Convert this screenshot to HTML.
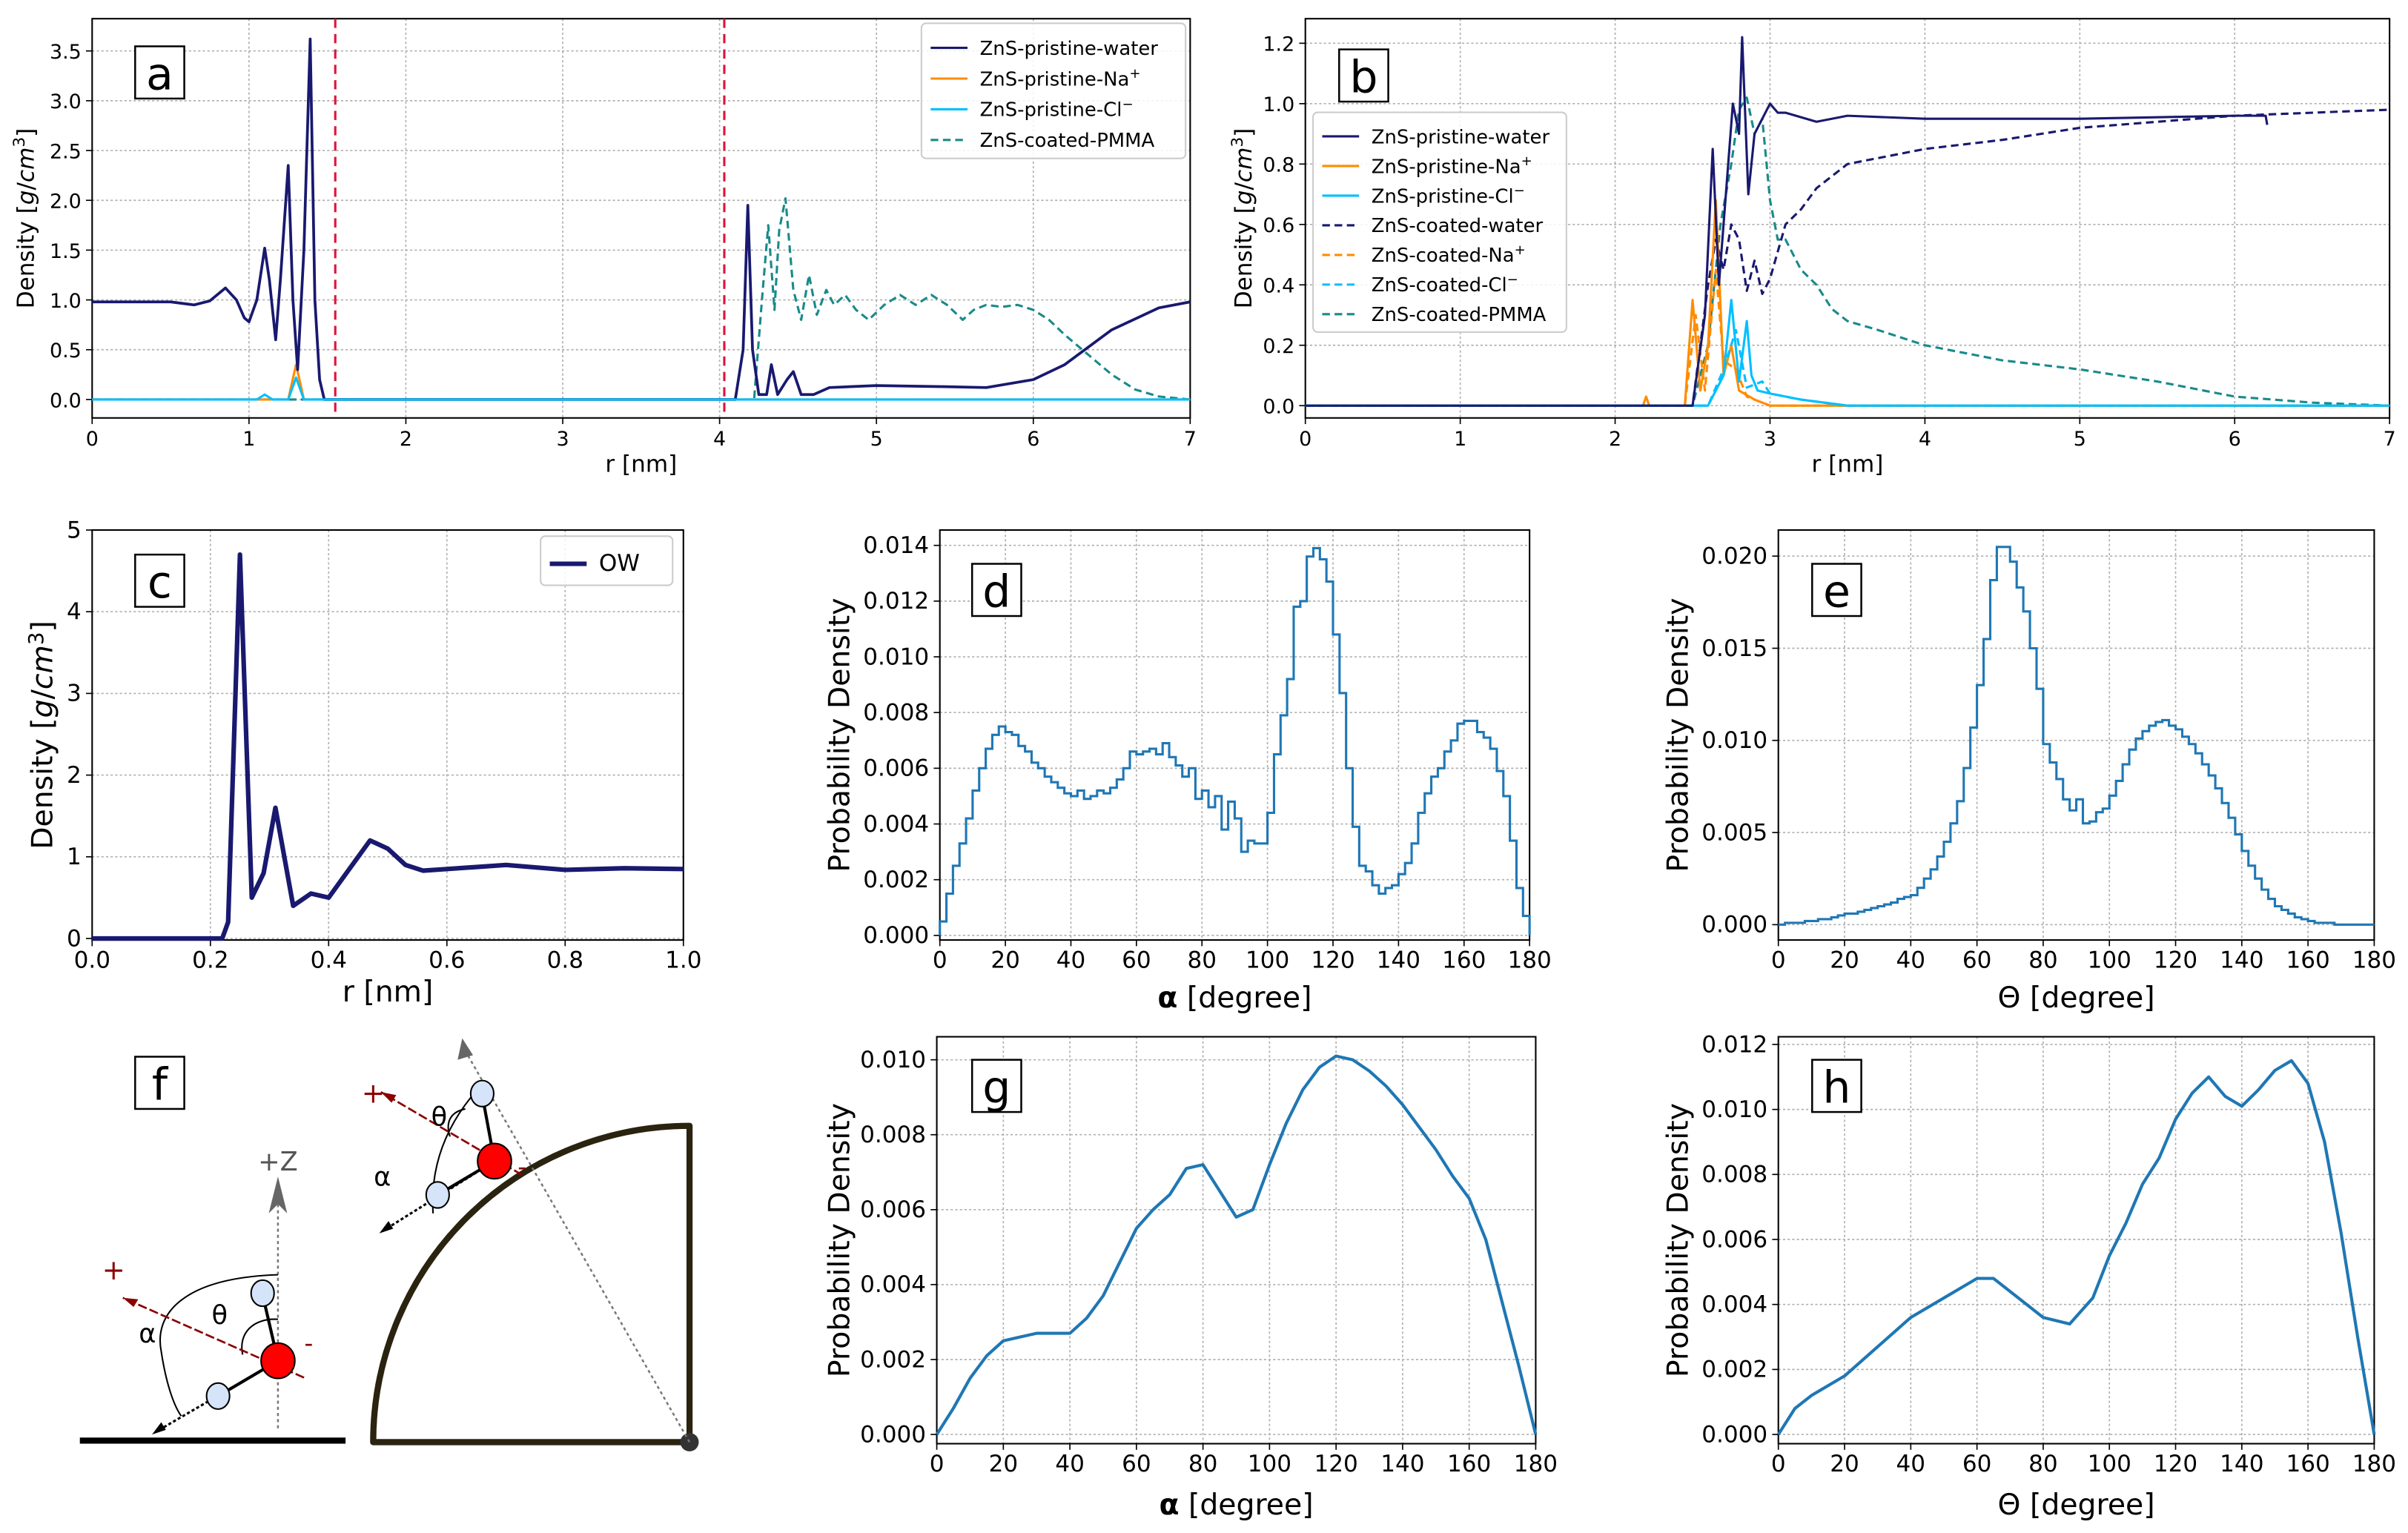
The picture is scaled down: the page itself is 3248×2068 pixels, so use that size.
<!DOCTYPE html>
<html><head><meta charset="utf-8"><style>
html,body{margin:0;padding:0;background:#fff;}
svg{display:block;font-family:"DejaVu Sans","Liberation Sans",sans-serif;}
</style></head><body>
<svg id="fig" xmlns="http://www.w3.org/2000/svg" width="3248" height="2068" viewBox="0 0 1568 998"></svg>
<script>
// ---------- data ----------
const aWaterR=[0,0.5,0.65,0.75,0.85,0.92,0.97,1.0,1.05,1.1,1.13,1.17,1.2,1.25,1.28,1.31,1.35,1.39,1.42,1.45,1.48,4.1,4.15,4.18,4.21,4.25,4.3,4.33,4.37,4.43,4.47,4.52,4.6,4.7,5.0,5.4,5.7,6.0,6.2,6.5,6.8,7.0];
const aWaterD=[0.98,0.98,0.95,0.99,1.12,1.0,0.82,0.78,1.0,1.52,1.2,0.6,1.2,2.35,1.0,0.3,1.5,3.62,1.0,0.2,0.0,0,0.5,1.95,0.5,0.05,0.05,0.35,0.05,0.2,0.28,0.05,0.05,0.12,0.14,0.13,0.12,0.2,0.35,0.7,0.92,0.98];
const aNaR=[0,1.25,1.3,1.35,7];
const aNaD=[0,0,0.35,0,0];
const aClR=[0,1.05,1.1,1.15,1.25,1.3,1.35,7];
const aClD=[0,0,0.05,0,0,0.22,0,0];
const aPmR=[0,4.22,4.27,4.31,4.35,4.38,4.42,4.47,4.52,4.57,4.62,4.68,4.73,4.8,4.87,4.95,5.05,5.15,5.25,5.35,5.45,5.55,5.62,5.7,5.8,5.9,6.0,6.1,6.2,6.35,6.5,6.65,6.8,7.0];
const aPmD=[0,0,1.0,1.75,0.9,1.7,2.02,1.1,0.8,1.25,0.85,1.1,0.95,1.05,0.9,0.8,0.95,1.05,0.95,1.05,0.95,0.8,0.9,0.95,0.93,0.95,0.9,0.8,0.65,0.45,0.25,0.1,0.03,0.0];

const bWaterR=[0,2.5,2.58,2.63,2.67,2.7,2.76,2.8,2.82,2.86,2.9,2.95,3.0,3.05,3.1,3.3,3.5,4.0,5.0,6.0,6.2,6.21];
const bWaterD=[0,0,0.3,0.85,0.4,0.6,1.0,0.9,1.22,0.7,0.9,0.95,1.0,0.97,0.97,0.94,0.96,0.95,0.95,0.96,0.96,0.93];
const bCWaterR=[0,2.5,2.6,2.65,2.7,2.75,2.8,2.85,2.9,2.95,3.0,3.1,3.2,3.3,3.5,4.0,4.5,5.0,6.0,7.0];
const bCWaterD=[0,0,0.4,0.55,0.45,0.6,0.55,0.38,0.48,0.37,0.42,0.6,0.65,0.72,0.8,0.85,0.88,0.92,0.96,0.98];
const bPmR=[0,2.5,2.6,2.68,2.75,2.8,2.85,2.9,2.95,3.0,3.05,3.1,3.2,3.3,3.4,3.5,3.7,4.0,4.5,5.0,5.5,6.0,6.5,7.0];
const bPmD=[0,0,0.2,0.6,0.8,0.98,1.02,0.9,0.95,0.68,0.55,0.55,0.45,0.4,0.32,0.28,0.25,0.2,0.15,0.12,0.08,0.03,0.01,0.0];
const bNaR=[0,2.18,2.2,2.22,2.45,2.5,2.55,2.6,2.65,2.7,2.75,2.8,2.9,3.0,7];
const bNaD=[0,0,0.03,0,0,0.35,0.05,0.2,0.68,0.1,0.2,0.05,0.02,0,0];
const bCNaR=[0,2.45,2.52,2.58,2.65,2.7,2.78,2.85,3.0,7];
const bCNaD=[0,0,0.3,0.05,0.45,0.15,0.12,0.03,0,0];
const bClR=[0,2.6,2.7,2.75,2.8,2.85,2.88,2.92,3.0,3.2,3.5,7];
const bClD=[0,0,0.1,0.35,0.08,0.28,0.1,0.05,0.04,0.02,0,0];
const bCClR=[0,2.6,2.7,2.78,2.85,2.95,3.0,3.2,3.5,7];
const bCClD=[0,0,0.12,0.25,0.06,0.08,0.04,0.02,0,0];

const cR=[0,0.22,0.23,0.25,0.27,0.29,0.31,0.34,0.37,0.4,0.43,0.47,0.5,0.53,0.56,0.6,0.7,0.8,0.9,1.0];
const cD=[0,0,0.2,4.7,0.5,0.8,1.6,0.4,0.55,0.5,0.8,1.2,1.1,0.9,0.83,0.85,0.9,0.84,0.86,0.85];

const dVals=[0.0005,0.0015,0.0025,0.0033,0.0042,0.0052,0.006,0.0067,0.0072,0.0075,0.0073,0.0072,0.0068,0.0066,0.0062,0.006,0.0057,0.0055,0.0053,0.0051,0.005,0.0052,0.0049,0.005,0.0052,0.0051,0.0053,0.0056,0.006,0.0066,0.0065,0.0066,0.0067,0.0065,0.0069,0.0064,0.0061,0.0057,0.006,0.0049,0.0052,0.0046,0.005,0.0038,0.0048,0.0042,0.003,0.0034,0.0033,0.0033,0.0044,0.0065,0.0079,0.0092,0.0118,0.012,0.0136,0.0139,0.0135,0.0127,0.0108,0.0087,0.006,0.0039,0.0025,0.0023,0.0018,0.0015,0.0017,0.0018,0.0022,0.0026,0.0033,0.0044,0.0051,0.0057,0.006,0.0066,0.007,0.0076,0.0077,0.0077,0.0073,0.0071,0.0067,0.0059,0.005,0.0034,0.0017,0.0007];
const eVals=[0.0000,0.0001,0.0001,0.0001,0.0002,0.0002,0.0003,0.0003,0.0004,0.0005,0.0006,0.0006,0.0007,0.0008,0.0009,0.001,0.0011,0.0012,0.0014,0.0015,0.0016,0.002,0.0025,0.003,0.0037,0.0045,0.0055,0.0067,0.0085,0.0107,0.013,0.0155,0.0187,0.0205,0.0205,0.0197,0.0183,0.017,0.015,0.0128,0.0098,0.0088,0.0079,0.0068,0.0062,0.0068,0.0055,0.0056,0.0061,0.0063,0.007,0.0078,0.0087,0.0095,0.0101,0.0105,0.0108,0.011,0.0111,0.0108,0.0106,0.0102,0.0098,0.0093,0.0087,0.0081,0.0074,0.0066,0.0058,0.0049,0.004,0.0032,0.0025,0.0019,0.0014,0.001,0.0008,0.0006,0.0004,0.0003,0.0002,0.0001,0.0001,0.0001,0,0,0,0,0,0];
const gX=[0,5,10,15,20,25,30,35,40,45,50,55,60,65,70,75,80,85,90,95,100,105,110,115,120,125,130,135,140,145,150,155,160,165,170,175,180];
const gY=[0,0.0007,0.0015,0.0021,0.0025,0.0026,0.0027,0.0027,0.0027,0.0031,0.0037,0.0046,0.0055,0.006,0.0064,0.0071,0.0072,0.0065,0.0058,0.006,0.0072,0.0083,0.0092,0.0098,0.0101,0.01,0.0097,0.0093,0.0088,0.0082,0.0076,0.0069,0.0063,0.0052,0.0035,0.0018,0];
const hX=[0,5,10,20,30,40,50,60,65,70,80,88,95,100,105,110,115,120,125,130,135,140,145,150,155,160,165,170,175,180];
const hY=[0,0.0008,0.0012,0.0018,0.0027,0.0036,0.0042,0.0048,0.0048,0.0044,0.0036,0.0034,0.0042,0.0055,0.0065,0.0077,0.0085,0.0097,0.0105,0.011,0.0104,0.0101,0.0106,0.0112,0.0115,0.0108,0.009,0.0062,0.003,0];

// ---------- helpers ----------
const NS="http://www.w3.org/2000/svg";
const fig=document.getElementById('fig');
function mk(tag,attrs,parent,name){
  const el=document.createElementNS(NS,tag);
  for(const k in attrs) el.setAttribute(k,attrs[k]);
  
  
  (parent||fig).appendChild(el);
  return el;
}
function txt(s,attrs,parent,name){const t=mk('text',attrs,parent,name);t.textContent=s;return t;}

function axes(c){
  const g=mk('g',{},fig,c.name);
  const sx=v=>c.L+(v-c.xd[0])/(c.xd[1]-c.xd[0])*(c.xp1-c.L);
  const sy=v=>c.y0p+(v-c.yd[0])/(c.yd[1]-c.yd[0])*(c.y1p-c.y0p);
  c.xt.forEach((v,i)=>{
    mk('line',{x1:sx(v),x2:sx(v),y1:c.T,y2:c.B,stroke:'#b0b0b0','stroke-width':0.8,'stroke-dasharray':'1.5,1.5'},g,'x-grid-line');
    mk('line',{x1:sx(v),x2:sx(v),y1:c.B,y2:c.B+4,stroke:'#000','stroke-width':0.8},g,'x-tick');
    txt(c.xl[i],{x:sx(v),y:c.B+18,'font-size':c.tf,'text-anchor':'middle'},g,'x-tick-label');
  });
  c.yt.forEach((v,i)=>{
    mk('line',{x1:c.L,x2:c.R,y1:sy(v),y2:sy(v),stroke:'#b0b0b0','stroke-width':0.8,'stroke-dasharray':'1.5,1.5'},g,'y-grid-line');
    mk('line',{x1:c.L-4,x2:c.L,y1:sy(v),y2:sy(v),stroke:'#000','stroke-width':0.8},g,'y-tick');
    txt(c.yl[i],{x:c.L-7,y:sy(v)+5,'font-size':c.tf,'text-anchor':'end'},g,'y-tick-label');
  });
  mk('rect',{x:c.L,y:c.T,width:c.R-c.L,height:c.B-c.T,fill:'none',stroke:'#000','stroke-width':1},g,'plot-frame');
  const xlab=txt(c.xlabel,{x:(c.L+c.R)/2,y:c.xly,'font-size':c.lf,'text-anchor':'middle'},g,'x-axis-title');
  const ylab=txt('',{x:0,y:0,'font-size':c.lf,'text-anchor':'middle',transform:`translate(${c.ylx},${(c.T+c.B)/2}) rotate(-90)`},g,'y-axis-title');
  ylab.innerHTML=c.ylabel;
  if(c.xlabelHTML) xlab.innerHTML=c.xlabelHTML;
  const lb=mk('g',{},g,'panel-label');
  mk('rect',{x:c.pl[0],y:c.pl[1],width:32,height:34,fill:'#fff',stroke:'#000','stroke-width':1.2},lb,'panel-label-box');
  txt(c.letter,{x:c.pl[0]+16,y:c.pl[1]+28,'font-size':29,'text-anchor':'middle'},lb,'panel-label-text');
  c.g=g;c.sx=sx;c.sy=sy;
  return c;
}
function line(ax,xs,ys,color,w,dash,name){
  let d='';xs.forEach((x,i)=>{d+=(i?'L':'M')+ax.sx(x).toFixed(2)+','+ax.sy(ys[i]).toFixed(2);});
  const a={d:d,fill:'none',stroke:color,'stroke-width':w,'stroke-linejoin':'round'};
  if(dash) a['stroke-dasharray']=dash;
  return mk('path',a,ax.g,name);
}
function hist(ax,vals,bw,name){
  let d='M'+ax.sx(0)+','+ax.sy(0);
  vals.forEach((v,i)=>{d+=' V'+ax.sy(v).toFixed(2)+' H'+ax.sx((i+1)*bw).toFixed(2);});
  d+=' V'+ax.sy(0);
  return mk('path',{d:d,fill:'none',stroke:'#1f77b4','stroke-width':1.5},ax.g,name);
}
function legend(ax,x,y,w,entries,name,fs,rowh){
  const g=mk('g',{},ax.g,name);
  mk('rect',{x:x,y:y,width:w,height:entries.length*rowh+8,rx:3,fill:'#fff','fill-opacity':0.85,stroke:'#ccc'},g,'legend-box');
  entries.forEach((e,i)=>{
    const yy=y+6+rowh*i+rowh/2;
    const a={x1:x+6,x2:x+30,y1:yy,y2:yy,stroke:e[1],'stroke-width':e[3]||1.5};
    if(e[2]) a['stroke-dasharray']=e[2];
    mk('line',a,g,'legend-swatch');
    const t=txt('',{x:x+38,y:yy+4.5,'font-size':fs},g,'legend-label');
    t.innerHTML=e[0];
  });
}
const NAVY='#191970',ORG='#ff8c00',CYAN='#00bfff',TEAL='#1a8a8a';
const dens='Density [<tspan font-style="italic">g</tspan>/<tspan font-style="italic">cm</tspan><tspan font-size="70%" dy="-6">3</tspan><tspan dy="6">]</tspan>';

// ---------- panel a ----------
const A=axes({name:'panel-a',letter:'a',L:60,R:775,T:12,B:272,xp1:775,xd:[0,7],y0p:260,y1p:33,yd:[0,3.5],
  xt:[0,1,2,3,4,5,6,7],xl:['0','1','2','3','4','5','6','7'],
  yt:[0,0.5,1,1.5,2,2.5,3,3.5],yl:['0.0','0.5','1.0','1.5','2.0','2.5','3.0','3.5'],
  tf:13,lf:15,xlabel:'r [nm]',xly:307,ylabel:dens,ylx:22,pl:[88,30]});
[1.55,4.03].forEach(v=>mk('line',{x1:A.sx(v),x2:A.sx(v),y1:12,y2:272,stroke:'#dc143c','stroke-width':1.5,'stroke-dasharray':'6,4'},A.g,'interface-marker-line'));
line(A,aPmR,aPmD,TEAL,1.5,'5,3','series-coated-pmma');
line(A,aNaR,aNaD,ORG,1.5,null,'series-pristine-na');
line(A,aWaterR,aWaterD,NAVY,1.8,null,'series-pristine-water');
line(A,aClR,aClD,CYAN,1.5,null,'series-pristine-cl');
legend(A,600,15,172,[['ZnS-pristine-water',NAVY],['ZnS-pristine-Na<tspan font-size="70%" dy="-5">+</tspan>',ORG],['ZnS-pristine-Cl<tspan font-size="70%" dy="-5">−</tspan>',CYAN],['ZnS-coated-PMMA',TEAL,'5,3']],'legend-a',12.5,20);

// ---------- panel b ----------
const Bp=axes({name:'panel-b',letter:'b',L:850,R:1556,T:12,B:272,xp1:1556,xd:[0,7],y0p:264,y1p:28,yd:[0,1.2],
  xt:[0,1,2,3,4,5,6,7],xl:['0','1','2','3','4','5','6','7'],
  yt:[0,0.2,0.4,0.6,0.8,1.0,1.2],yl:['0.0','0.2','0.4','0.6','0.8','1.0','1.2'],
  tf:13,lf:15,xlabel:'r [nm]',xly:307,ylabel:dens,ylx:815,pl:[872,32]});
line(Bp,bPmR,bPmD,TEAL,1.5,'5,3','series-coated-pmma');
line(Bp,bCWaterR,bCWaterD,NAVY,1.5,'5,3','series-coated-water');
line(Bp,bNaR,bNaD,ORG,1.5,null,'series-pristine-na');
line(Bp,bCNaR,bCNaD,ORG,1.5,'5,3','series-coated-na');
line(Bp,bClR,bClD,CYAN,1.5,null,'series-pristine-cl');
line(Bp,bCClR,bCClD,CYAN,1.5,'5,3','series-coated-cl');
line(Bp,bWaterR,bWaterD,NAVY,1.5,null,'series-pristine-water');
legend(Bp,855,73,165,[['ZnS-pristine-water',NAVY],['ZnS-pristine-Na<tspan font-size="70%" dy="-5">+</tspan>',ORG],['ZnS-pristine-Cl<tspan font-size="70%" dy="-5">−</tspan>',CYAN],['ZnS-coated-water',NAVY,'5,3'],['ZnS-coated-Na<tspan font-size="70%" dy="-5">+</tspan>',ORG,'5,3'],['ZnS-coated-Cl<tspan font-size="70%" dy="-5">−</tspan>',CYAN,'5,3'],['ZnS-coated-PMMA',TEAL,'5,3']],'legend-b',12.5,19.3);

// ---------- panel c ----------
const C=axes({name:'panel-c',letter:'c',L:60,R:445,T:345,B:612,xp1:445,xd:[0,1],y0p:611,y1p:345,yd:[0,5],
  xt:[0,0.2,0.4,0.6,0.8,1.0],xl:['0.0','0.2','0.4','0.6','0.8','1.0'],
  yt:[0,1,2,3,4,5],yl:['0','1','2','3','4','5'],
  tf:15,lf:19,xlabel:'r [nm]',xly:652,ylabel:dens,ylx:34,pl:[88,361]});
line(C,cR,cD,NAVY,3,null,'series-ow');
legend(C,352,349,86,[['OW',NAVY,null,3]],'legend-c',15,24);

// ---------- panel d ----------
const degT=[0,20,40,60,80,100,120,140,160,180],degL=degT.map(String);
const alphaLab='<tspan font-weight="bold">α</tspan> [degree]';
const D=axes({name:'panel-d',letter:'d',L:612,R:996,T:345,B:612,xp1:996,xd:[0,180],y0p:609,y1p:355,yd:[0,0.014],
  xt:degT,xl:degL,yt:[0,0.002,0.004,0.006,0.008,0.010,0.012,0.014],yl:['0.000','0.002','0.004','0.006','0.008','0.010','0.012','0.014'],
  tf:15,lf:19,xlabel:'',xlabelHTML:alphaLab,xly:656,ylabel:'Probability Density',ylx:553,pl:[633,367]});
hist(D,dVals,2,'histogram-alpha');

// ---------- panel e ----------
const E=axes({name:'panel-e',letter:'e',L:1158,R:1546,T:345,B:612,xp1:1546,xd:[0,180],y0p:602,y1p:362,yd:[0,0.02],
  xt:degT,xl:degL,yt:[0,0.005,0.010,0.015,0.020],yl:['0.000','0.005','0.010','0.015','0.020'],
  tf:15,lf:19,xlabel:'Θ [degree]',xly:656,ylabel:'Probability Density',ylx:1099,pl:[1180,367]});
hist(E,eVals,2,'histogram-theta');

// ---------- panel g ----------
const G=axes({name:'panel-g',letter:'g',L:610,R:1000,T:675,B:940,xp1:1000,xd:[0,180],y0p:934,y1p:690,yd:[0,0.010],
  xt:degT,xl:degL,yt:[0,0.002,0.004,0.006,0.008,0.010],yl:['0.000','0.002','0.004','0.006','0.008','0.010'],
  tf:15,lf:19,xlabel:'',xlabelHTML:alphaLab,xly:986,ylabel:'Probability Density',ylx:553,pl:[633,690]});
line(G,gX,gY,'#1f77b4',2,null,'curve-alpha-coated');

// ---------- panel h ----------
const H=axes({name:'panel-h',letter:'h',L:1158,R:1546,T:675,B:940,xp1:1546,xd:[0,180],y0p:934,y1p:680,yd:[0,0.012],
  xt:degT,xl:degL,yt:[0,0.002,0.004,0.006,0.008,0.010,0.012],yl:['0.000','0.002','0.004','0.006','0.008','0.010','0.012'],
  tf:15,lf:19,xlabel:'Θ [degree]',xly:986,ylabel:'Probability Density',ylx:1099,pl:[1180,690]});
line(H,hX,hY,'#1f77b4',2,null,'curve-theta-coated');

// ---------- panel f schematic ----------
const F=mk('g',{},fig,'panel-f-schematic');
const defs=mk('defs',{},F,'arrow-defs');
const m1=mk('marker',{id:'ag',markerWidth:8,markerHeight:10,refX:4,refY:9,orient:'auto-start-reverse',viewBox:'0 0 8 10'},defs,'arrowhead-gray');
mk('path',{d:'M0,10 L4,0 L8,10 L4,7 Z',fill:'#666'},m1,'arrowhead-shape');
const fl=mk('g',{},F,'panel-f-label');
mk('rect',{x:88,y:688,width:32,height:34,fill:'#fff',stroke:'#000','stroke-width':1.2},fl,'panel-label-box');
txt('f',{x:104,y:716,'font-size':29,'text-anchor':'middle'},fl,'panel-label-text');
// left molecule near flat surface
mk('line',{x1:52,y1:938,x2:225,y2:938,stroke:'#000','stroke-width':4},F,'flat-surface');
mk('line',{x1:181,y1:930,x2:181,y2:780,stroke:'#777','stroke-width':1.2,'stroke-dasharray':'2,2'},F,'z-axis-dotted');
mk('path',{d:'M175,790 L181,766 L187,790 L181,784 Z',fill:'#666'},F,'z-arrowhead');
txt('+Z',{x:181,y:762,'font-size':17,fill:'#555','text-anchor':'middle'},F,'z-label');
mk('path',{d:'M181,830 C120,832 100,855 105,880 C108,900 113,915 118,922',fill:'none',stroke:'#000','stroke-width':1},F,'alpha-arc');
mk('path',{d:'M181,859 C165,858 155,868 158,882',fill:'none',stroke:'#000','stroke-width':1},F,'theta-arc');
mk('line',{x1:198,y1:897,x2:80,y2:845,stroke:'#8b0000','stroke-width':1.3,'stroke-dasharray':'6,2'},F,'dipole-arrow');
mk('path',{d:'M80,845 L90,846 L87,851 Z',fill:'#8b0000'},F,'dipole-arrowhead');
txt('+',{x:74,y:833,'font-size':18,fill:'#8b0000','text-anchor':'middle'},F,'dipole-plus');
txt('-',{x:201,y:880,'font-size':16,fill:'#8b0000','text-anchor':'middle'},F,'dipole-minus');
mk('line',{x1:181,y1:886,x2:102,y2:932,stroke:'#000','stroke-width':1.5,'stroke-dasharray':'2,1.5'},F,'oh-vector');
mk('path',{d:'M99,934 L105,926 L108,931 Z',fill:'#000'},F,'oh-arrowhead');
mk('line',{x1:181,y1:886,x2:171,y2:843,stroke:'#000','stroke-width':2},F,'oh-bond');
mk('line',{x1:181,y1:886,x2:142,y2:909,stroke:'#000','stroke-width':2},F,'oh-bond');
mk('ellipse',{cx:171,cy:842,rx:7.5,ry:8.5,fill:'#d6e4fa',stroke:'#000','stroke-width':1},F,'hydrogen-atom');
mk('ellipse',{cx:142,cy:909,rx:7.5,ry:8.5,fill:'#d6e4fa',stroke:'#000','stroke-width':1},F,'hydrogen-atom');
mk('ellipse',{cx:181,cy:886,rx:11,ry:11.5,fill:'#f00',stroke:'#000','stroke-width':1},F,'oxygen-atom');
txt('θ',{x:143,y:862,'font-size':17,'text-anchor':'middle'},F,'theta-label');
txt('α',{x:96,y:874,'font-size':17,'text-anchor':'middle'},F,'alpha-label');
// right: spherical surface
mk('path',{d:'M243,939 A206,206 0 0 1 449,733 L449,939 Z',fill:'none',stroke:'#2a2310','stroke-width':4,'stroke-linejoin':'round'},F,'nanoparticle-quadrant');
mk('circle',{cx:449,cy:939,r:6,fill:'#333'},F,'particle-center');
mk('line',{x1:449,y1:939,x2:304,y2:686,stroke:'#777','stroke-width':1.2,'stroke-dasharray':'2,2'},F,'radial-dotted');
mk('path',{d:'M298,690 L301,676 L308,687 Z',fill:'#666'},F,'radial-arrowhead');
mk('path',{d:'M307,714 C290,735 280,760 282,790',fill:'none',stroke:'#000','stroke-width':1},F,'alpha-arc-2');
mk('path',{d:'M303,722 C293,724 290,731 293,740',fill:'none',stroke:'#000','stroke-width':1},F,'theta-arc-2');
mk('line',{x1:340,y1:765,x2:248,y2:711,stroke:'#8b0000','stroke-width':1.3,'stroke-dasharray':'6,2'},F,'dipole-arrow-2');
mk('path',{d:'M248,711 L258,713 L255,718 Z',fill:'#8b0000'},F,'dipole-arrowhead-2');
txt('+',{x:243,y:718,'font-size':18,fill:'#8b0000','text-anchor':'middle'},F,'dipole-plus-2');
txt('-',{x:340,y:765,'font-size':16,fill:'#8b0000','text-anchor':'middle'},F,'dipole-minus-2');
mk('line',{x1:322,y1:756,x2:250,y2:801,stroke:'#000','stroke-width':1.5,'stroke-dasharray':'2,1.5'},F,'oh-vector-2');
mk('path',{d:'M247,803 L253,795 L256,800 Z',fill:'#000'},F,'oh-arrowhead-2');
mk('line',{x1:322,y1:756,x2:314,y2:713,stroke:'#000','stroke-width':2},F,'oh-bond-2');
mk('line',{x1:322,y1:756,x2:285,y2:778,stroke:'#000','stroke-width':2},F,'oh-bond-2');
mk('ellipse',{cx:314,cy:712,rx:7.5,ry:8.5,fill:'#d6e4fa',stroke:'#000','stroke-width':1},F,'hydrogen-atom');
mk('ellipse',{cx:285,cy:778,rx:7.5,ry:8.5,fill:'#d6e4fa',stroke:'#000','stroke-width':1},F,'hydrogen-atom');
mk('ellipse',{cx:322,cy:756,rx:11,ry:11.5,fill:'#f00',stroke:'#000','stroke-width':1},F,'oxygen-atom');
txt('θ',{x:286,y:733,'font-size':17,'text-anchor':'middle'},F,'theta-label-2');
txt('α',{x:249,y:772,'font-size':17,'text-anchor':'middle'},F,'alpha-label-2');
</script>
</body></html>
